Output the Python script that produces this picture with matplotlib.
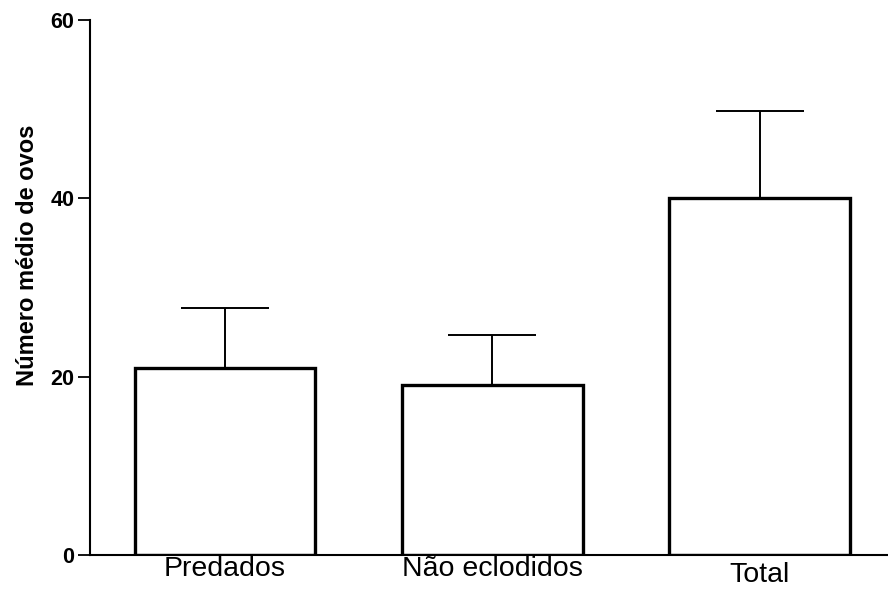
import matplotlib
matplotlib.use("Agg")
import matplotlib.pyplot as plt
import matplotlib.transforms as mtransforms

# Werte
categories = ["Predados", "Não eclodidos", "Total"]
means = [21.0, 19.0, 40.0]
errors_up = [6.7, 5.7, 9.8]
y_ticks = [0, 20, 40, 60]

plt.rcParams['font.family'] = ['Liberation Sans', 'DejaVu Sans']

fig = plt.figure(figsize=(8.88, 5.89), dpi=100)
ax = fig.add_axes([0.101, 0.058, 0.899, 0.908])

x = list(range(len(categories)))
ax.bar(x, means, width=0.675, color='white', edgecolor='black', linewidth=2.4, zorder=2)
ax.errorbar(x, means, yerr=[[0] * len(means), errors_up], fmt='none', ecolor='black',
            elinewidth=1.4, capsize=31.5, capthick=1.4, zorder=1)

ax.set_xlim(-0.506, 2.48)
ax.set_ylim(0, 60)
ax.set_yticks(y_ticks)
ax.set_yticklabels([str(t) for t in y_ticks], fontsize=15.5, fontweight='bold')
ax.tick_params(axis='y', direction='out', length=9, width=1.3, pad=2)
ax.set_xticks(x)
ax.set_xticklabels(categories, fontsize=20.5)
ax.tick_params(axis='x', length=0, pad=1)

# "Total" steht im Original etwas tiefer
lbls = ax.get_xticklabels()
lbls[-1].set_transform(lbls[-1].get_transform() +
                       mtransforms.ScaledTranslation(0, -6 / 100, fig.dpi_scale_trans))

ax.set_ylabel('Número médio de ovos', fontsize=17, fontweight='bold')
ax.yaxis.set_label_coords(-0.064, 0.56)

for side in ['top', 'right']:
    ax.spines[side].set_visible(False)
for side in ['left', 'bottom']:
    ax.spines[side].set_linewidth(1.5)

fig.savefig('out.png', dpi=100)
